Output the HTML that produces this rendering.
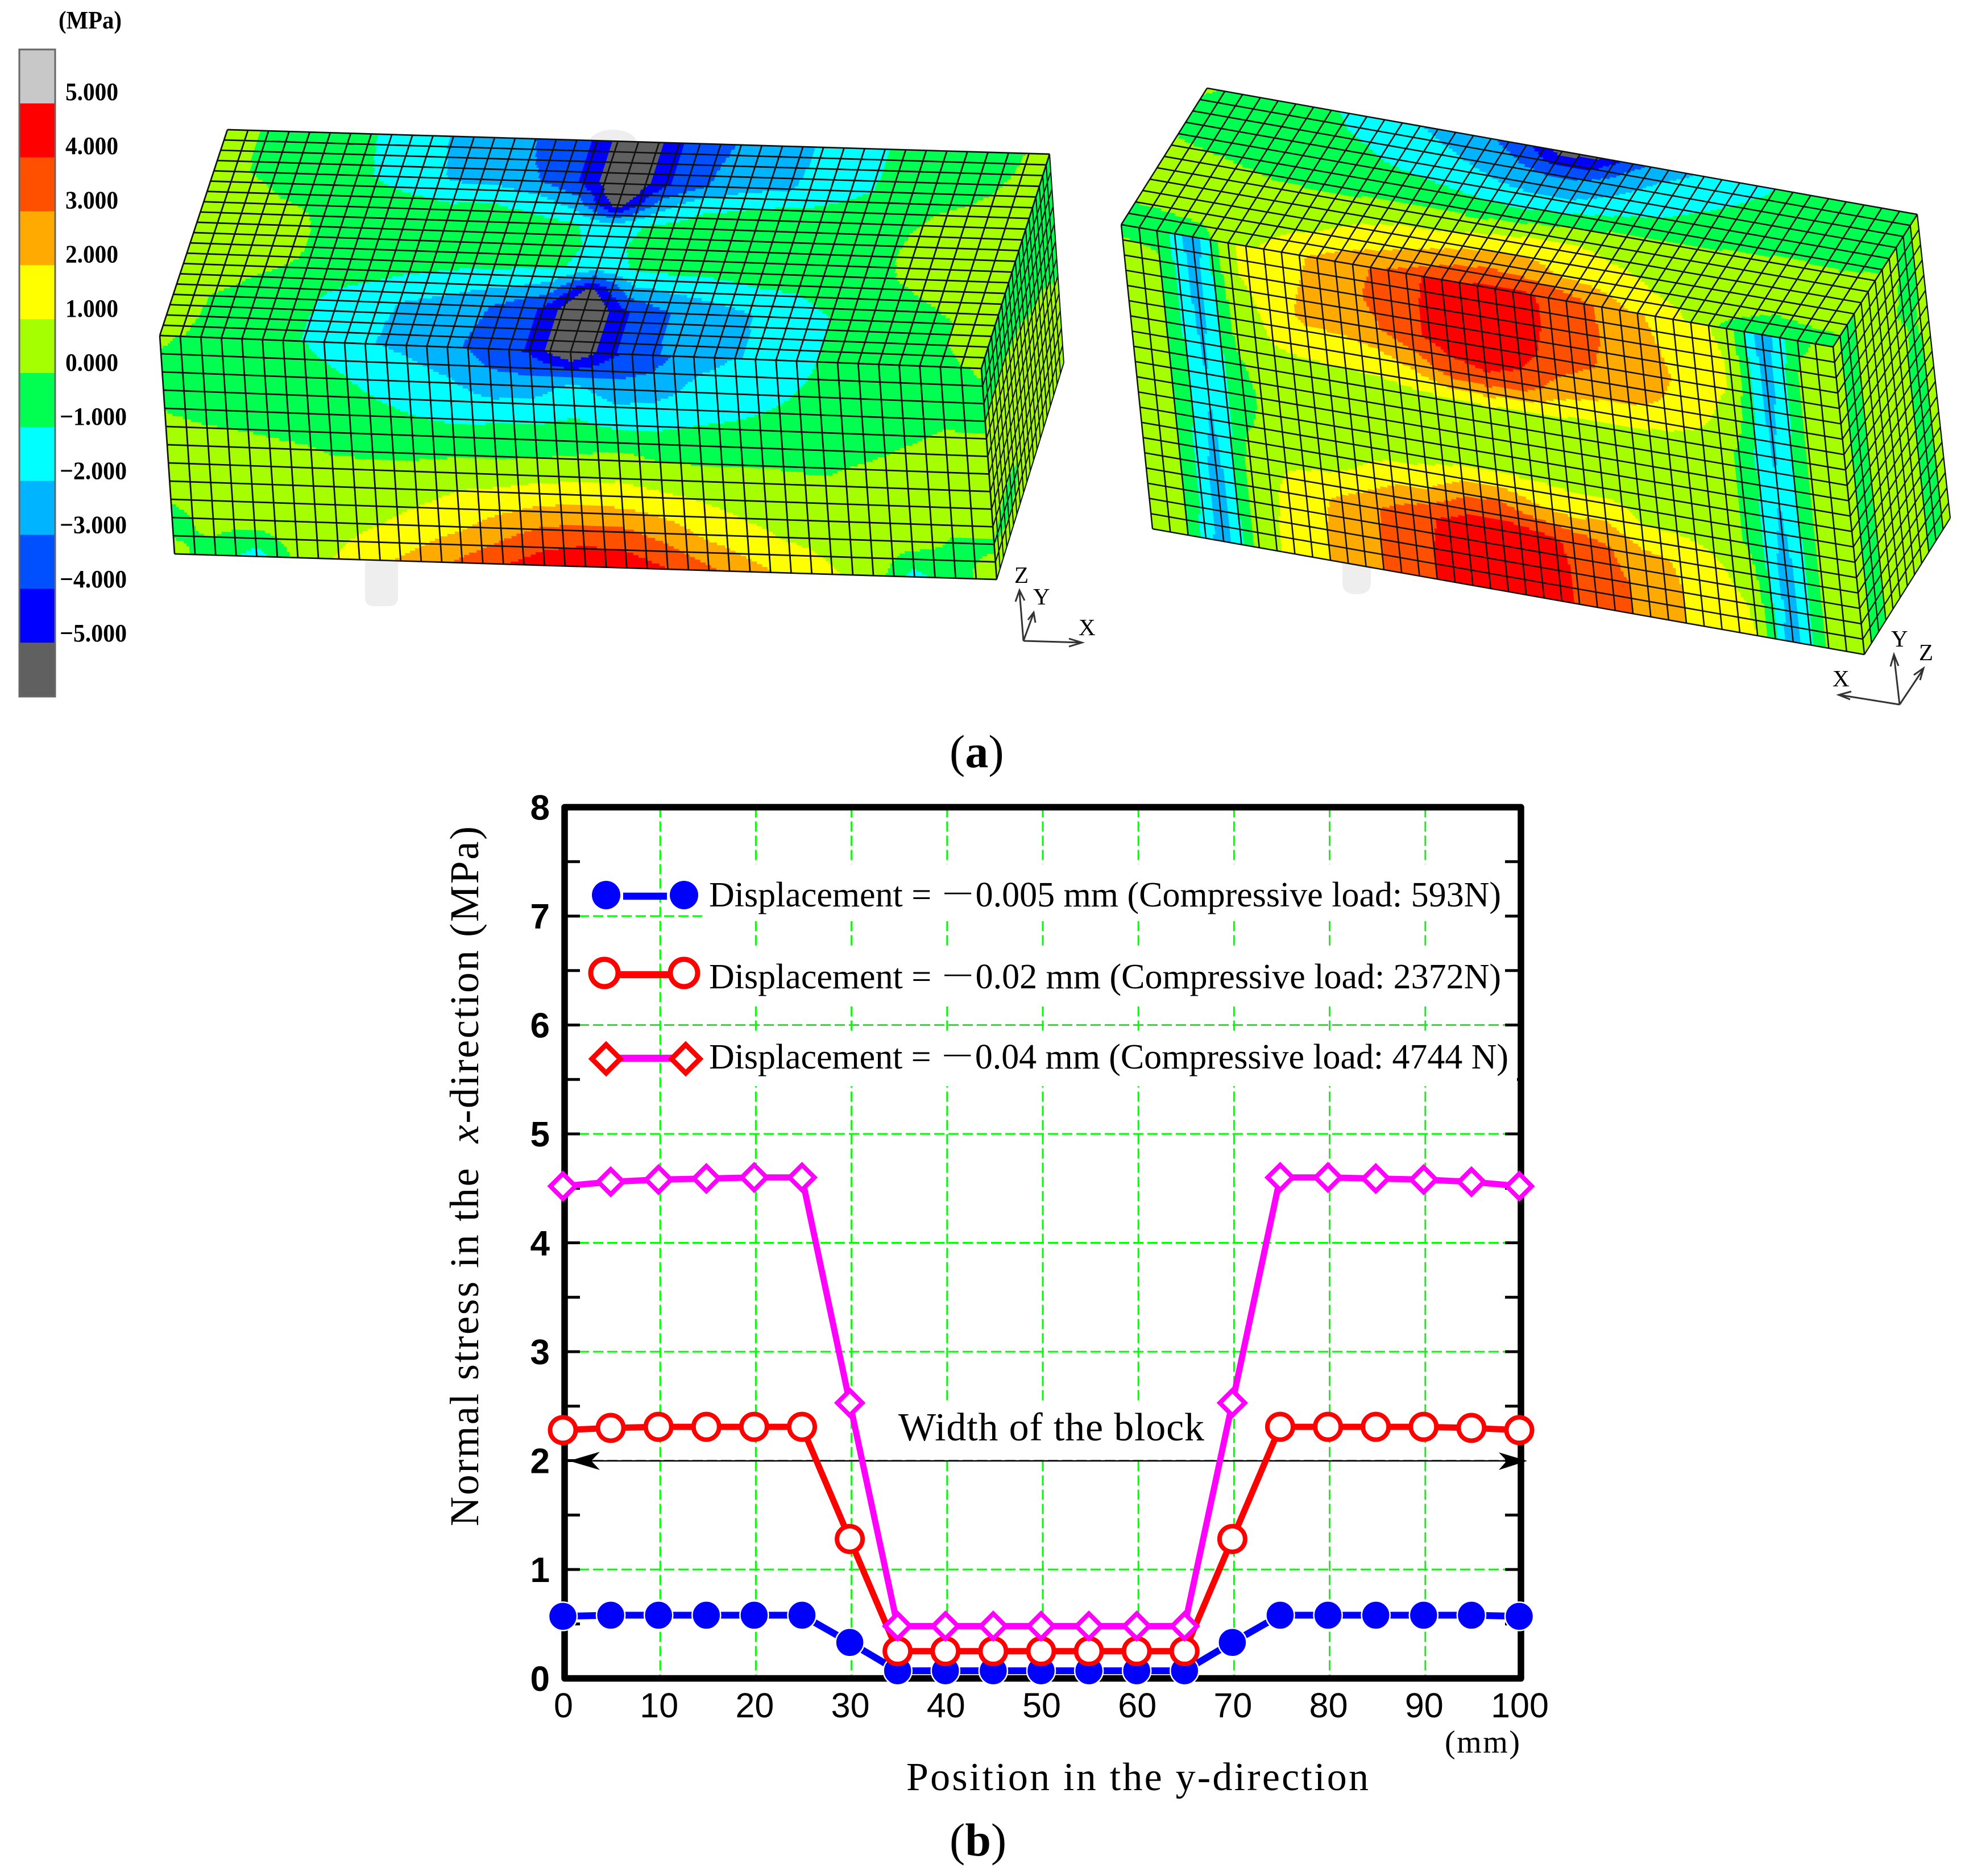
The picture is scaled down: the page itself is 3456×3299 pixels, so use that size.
<!DOCTYPE html>
<html lang="en">
<head>
<meta charset="utf-8">
<title>Normal stress contour plots and stress profile</title>
<style>
html,body{margin:0;padding:0;background:#fff;}
svg{display:block;}
text{font-family:"Liberation Serif","Noto Serif CJK SC",serif;fill:#000;}
.sans{font-family:"Liberation Sans",sans-serif;}
</style>
</head>
<body>
<svg id="fig" xmlns="http://www.w3.org/2000/svg" width="3456" height="3299" viewBox="0 0 3456 3299">
  <rect x="0" y="0" width="3456" height="3299" fill="#fff"/>

  <g id="colorbar"></g>
  <text x="103" y="50" font-size="44" font-weight="bold" textLength="111" lengthAdjust="spacingAndGlyphs">(MPa)</text>

  <path d="M642 960H700V1050Q700 1066 684 1066H658Q642 1066 642 1050Z" fill="#eeeeee"/>
  <ellipse cx="1078" cy="252" rx="42" ry="24" fill="#eeeeee"/>
  <path d="M2361 960H2411V1025Q2411 1045 2386 1045Q2361 1045 2361 1025Z" fill="#eeeeee"/>

  <g id="leftBlock"></g>
  <g id="rightBlock"></g>

  <g stroke="#333" stroke-width="3" fill="none">
    <path d="M1800 1127L1793 1040M1786 1058L1793 1038L1802 1056"/>
    <path d="M1800 1127L1818 1078M1808 1090L1818 1077L1821 1095"/>
    <path d="M1800 1127L1902 1130M1880 1123L1903 1130L1880 1137"/>
  </g>
  <text x="1784" y="1025" font-size="41">Z</text>
  <text x="1817" y="1063" font-size="41">Y</text>
  <text x="1897" y="1117" font-size="41">X</text>

  <g stroke="#333" stroke-width="3" fill="none">
    <path d="M3341 1239L3331 1152M3325 1172L3331 1151L3339 1171"/>
    <path d="M3341 1239L3383 1176M3366 1187L3383 1175L3377 1196"/>
    <path d="M3341 1239L3235 1222M3256 1216L3234 1222L3254 1230"/>
  </g>
  <text x="3326" y="1137" font-size="41">Y</text>
  <text x="3375" y="1161" font-size="41">Z</text>
  <text x="3223" y="1207" font-size="41">X</text>

  <text x="1670" y="1349" font-size="82">(<tspan font-weight="bold">a</tspan>)</text>

  <g id="chart"></g>

  <text transform="translate(841,2684) rotate(-90)" x="0" y="0" font-size="72" textLength="1231" lengthAdjust="spacing" xml:space="preserve">Normal stress in the  <tspan font-style="italic">x</tspan>-direction (MPa)</text>
  <text x="1594" y="3148" font-size="70" textLength="813" lengthAdjust="spacing">Position in the y-direction</text>
  <text x="2541" y="3082" font-size="56" textLength="132" lengthAdjust="spacing">(mm)</text>
  <text x="1670" y="3263" font-size="82">(<tspan font-weight="bold">b</tspan>)</text>
</svg>

<script>
/* ---------- line chart data ---------- */
const positions = [0,5,10,15,20,25,30,35,40,45,50,55,60,65,70,75,80,85,90,95,100];
const stressLow = [0.57,0.58,0.58,0.58,0.58,0.58,0.33,0.07,0.07,0.07,0.07,0.07,0.07,0.07,0.33,0.58,0.58,0.58,0.58,0.58,0.57];
const stressMid = [2.28,2.30,2.31,2.31,2.31,2.31,1.28,0.25,0.25,0.25,0.25,0.25,0.25,0.25,1.28,2.31,2.31,2.31,2.31,2.30,2.28];
const stressHigh = [4.52,4.56,4.58,4.59,4.60,4.60,2.53,0.48,0.48,0.48,0.48,0.48,0.48,0.48,2.53,4.60,4.60,4.59,4.58,4.56,4.52];
const yTickLabels = [0,1,2,3,4,5,6,7,8];
const yMinorTicks = [0.5,1,1.5,2,2.5,3,3.5,4,4.5,5,5.5,6,6.5,7,7.5];
const xTickLabels = [0,10,20,30,40,50,60,70,80,90,100];

/* ---------- colour scale data ---------- */
const contourLevels = [-5,-4,-3,-2,-1,0,1,2,3,4,5];
const contourColors = ["#606060","#0000ff","#0050ff","#00b4ff","#00ffff","#00ff50","#a5ff00","#ffff00","#ffaa00","#ff5000","#ff0000","#c8c8c8"];
const colorbarLabels = ["5.000","4.000","3.000","2.000","1.000","0.000","\u22121.000","\u22122.000","\u22123.000","\u22124.000","\u22125.000"];

/* ---------- stress fields, one array per mesh column (every second column), values down the face ---------- */
const leftTopField = [
[.4,.4,.4,.4,.4,.4,.4,.4,.4,.4,.3],
[-.1,-.1,-.05,.3,.5,.5,.5,.4,-.05,-.1,-.2],
[-.5,-.5,-.4,-.15,.3,.5,.5,-.1,-.5,-.5,-.5],
[-.7,-.7,-.6,-.4,-.15,-.1,-.15,-.5,-.7,-.7,-.7],
[-1.15,-1.1,-1.05,-.6,-.5,-.5,-.6,-.8,-1.3,-1.35,-1.4],
[-1.7,-1.7,-1.6,-.9,-.6,-.55,-.65,-1.05,-1.8,-1.85,-1.9],
[-2.4,-2.3,-2.2,-1.1,-.6,-.6,-.7,-1.3,-2.2,-2.3,-2.3],
[-2.7,-2.6,-2.4,-1.05,-.6,-.6,-.75,-1.7,-2.5,-2.7,-2.8],
[-3.3,-3.2,-3.05,-1.4,-.6,-.6,-.8,-1.9,-3.2,-3.3,-3.4],
[-4.1,-4.1,-4.1,-2.5,-.8,-.65,-.85,-2.4,-4.1,-4.1,-4.1],
[-6.5,-6.5,-6.5,-5.6,-1.7,-1.4,-1.5,-5.2,-6.5,-6.5,-6.5],
[-4.1,-4.1,-4.1,-2.5,-.8,-.65,-.85,-2.3,-4.1,-4.1,-4.1],
[-3.2,-3.1,-3.05,-1.2,-.6,-.6,-.75,-1.9,-3.05,-3.05,-3.1],
[-2.7,-2.6,-2.3,-1.05,-.6,-.55,-.7,-1.6,-2.6,-2.6,-2.6],
[-2.2,-2.2,-2.1,-.9,-.55,-.5,-.6,-1.2,-2.1,-2.1,-2.1],
[-1.5,-1.5,-1.4,-.85,-.5,-.45,-.5,-1.05,-1.4,-1.5,-1.5],
[-1.05,-1.05,-1.02,-.6,-.4,-.3,-.4,-.7,-1,-1,-1],
[-.7,-.7,-.6,-.3,-.1,-.05,-.1,-.4,-.7,-.7,-.7],
[-.6,-.6,-.4,.1,.3,.4,.3,-.05,-.4,-.5,-.5],
[-.3,-.2,.05,.3,.4,.5,.5,.3,0,0,-.3],
[.4,.5,.5,.5,.5,.5,.5,.5,.4,.4,.3]
];
const leftFrontField = [
[.3,-.5,-.05,.5,.5,-.3,.2],
[-.4,-.6,-.3,.4,.6,.3,-.3],
[-.5,-.6,-.4,.3,.6,.5,-1.5],
[-.6,-.7,-.6,.15,.5,.6,.3],
[-1.3,-.75,-.5,-.05,.3,.6,1.1],
[-1.9,-1.2,-.7,-.1,.4,.95,1.8],
[-2.2,-1.6,-.95,-.15,.6,1.4,2.4],
[-2.6,-1.9,-1.15,-.1,1,1.8,3.2],
[-3.5,-2.6,-1.1,-.1,1.15,2.5,3.9],
[-4.2,-2.5,-1.1,0,1.4,3.1,4.6],
[-6.2,-1.7,-.85,.1,1.5,3.3,4.9],
[-4.2,-2.6,-1.2,.4,1.4,3.2,4.7],
[-3.5,-2.4,-1.15,0,1.2,2.6,4],
[-2.4,-1.7,-.95,-.05,.9,1.8,3.2],
[-2,-1.4,-.85,-.05,.6,1.3,2.4],
[-1.5,-1.1,-.75,-.05,.4,.9,1.7],
[-1,-.8,-.6,-.1,.3,.7,1.1],
[-.7,-.6,-.45,.1,.4,.5,.7],
[-.5,-.5,-.15,.3,.5,.5,-1.4],
[-.5,-.4,.1,.4,.5,-.1,-.2],
[.2,-.4,.05,.5,.5,-.1,.3]
];
const leftSideField = [
[-.5,-.3,.3,.4,.4,0,.3],
[-.5,-.3,.3,.4,.4,-.3,.3],
[-.5,-.5,.1,.4,.4,.3,.4],
[-.5,-.5,-.4,.3,.4,.4,.4],
[-.4,-.5,-.4,-.3,.3,.4,.4]
];
const rightTopField = [
[.2,-.4,-.05,.4,.3,0,-.3],
[-.4,-.5,-.3,.3,.3,.1,-.5],
[-.5,-.6,-.4,.1,.4,.4,-.6],
[-.6,-.7,-.6,-.05,.3,.6,.6],
[-1.1,-.85,-.7,-.1,.3,.8,1.1],
[-1.5,-1.05,-.75,-.2,.4,1,1.9],
[-1.95,-1.4,-.9,-.2,.7,1.5,2.4],
[-2.4,-1.75,-1.05,-.2,.9,1.7,2.9],
[-2.9,-2.2,-1.35,-.25,.9,2.1,3.3],
[-3.6,-2.7,-1.7,-.4,1.1,2.5,3.9],
[-5.5,-3.1,-1.9,-.3,1.35,2.7,4.1],
[-5.2,-3.05,-1.9,-.1,1.5,2.4,4.2],
[-3.4,-2.4,-1.5,.05,1.35,1.9,3.9],
[-2.4,-1.7,-1.1,.1,.9,1.6,3.1],
[-1.9,-1.3,-.9,.1,.7,1.2,2.2],
[-1.4,-1.05,-.7,.1,.5,.8,1.5],
[-1.02,-.8,-.5,.1,.4,.6,.9],
[-.7,-.6,-.3,.1,.4,.4,-.3],
[-.6,-.5,-.3,.1,.3,.1,-.8],
[-.5,-.5,-.3,.05,.3,.2,-.4],
[-.4,-.4,-.2,.1,.3,.2,-.2]
];
const rightFrontField = [
[-.3,.4,.4,.4,.4,.4,.4,.4,.4,.4,.4],
[-.2,.05,.05,.05,.05,.05,.05,.05,.05,.05,.05],
[-2.7,-2.6,-2.5,-2.3,-2.1,-2,-2.1,-2.4,-2.6,-2.6,-2.7],
[.9,.9,.5,.3,-.1,-.2,-.1,.3,.4,.4,.4],
[1.3,1.4,1.3,1.05,.6,.3,.4,.9,1.2,1.3,1.3],
[1.9,2.05,2.3,1.4,.5,.4,.5,.9,1.9,2,2],
[2.4,2.6,2.4,1.4,.6,.5,.6,1.1,2.6,2.7,2.7],
[3,3.2,2.9,1.6,.6,.5,.6,1.8,3.3,3.3,3.3],
[3.7,3.8,3.85,2.3,.7,.5,.65,1.9,3.9,4,4],
[4.4,4.5,4.4,3.6,.8,.5,.8,2.8,4.5,4.6,4.6],
[4.5,4.6,4.5,3.9,.9,.5,.8,3,4.6,4.7,4.7],
[4.4,4.5,4.4,3.7,.8,.5,.8,2.1,4.4,4.6,4.6],
[3.8,3.8,3.6,2.6,.8,.5,.7,1.7,3.8,3.9,3.9],
[3.2,3.2,3.1,2.2,.7,.5,.6,1.9,3.1,3.3,3.3],
[2.4,2.7,2.5,2.1,.8,.5,.6,1,2.2,2.7,2.7],
[1.8,2,2.2,1.9,.7,.5,.55,.9,1.9,2,2],
[1.3,1.5,1.5,1.3,.6,.5,.5,.7,1.2,1.4,1.5],
[.7,.9,.9,.5,-.1,-.1,-.1,-.1,.5,.9,1],
[-2.7,-2.6,-2.5,-2.3,-2.1,-2,-2.1,-2.4,-2.6,-2.6,-2.7],
[-.2,.1,.1,.1,.1,.1,.1,.1,.1,.1,.1],
[.3,.4,.4,.4,.4,.4,.4,.4,.4,.4,.4]
];
const rightSideField = [
[.3,.4,.4,.4,.4,.4,.4,.4,.4,.4,.4],
[-.4,-.4,-.4,-.4,-.4,-.4,-.4,-.4,-.4,-.4,-.4],
[.4,.4,.4,.4,.4,.4,.4,.4,.4,.4,.4],
[.4,.4,.4,.4,.4,.4,.4,.4,.4,.4,.4],
[.4,.4,.1,.4,.4,.4,.4,.4,.4,.4,.4],
[-.5,-.5,-.5,-.1,-.5,-.5,-.5,-.5,-.5,-.5,-.5],
[.4,.4,.4,.4,.4,.4,.4,.4,.4,.4,.4]
];

const SVGNS = "http://www.w3.org/2000/svg";
function el(tag, attrs, parent) {
  const n = document.createElementNS(SVGNS, tag);
  for (const k in attrs) n.setAttribute(k, attrs[k]);
  if (parent) parent.appendChild(n);
  return n;
}

/* ---------- colour scale ---------- */
function bandIndex(v) {
  let i = 0;
  while (i < contourLevels.length && v >= contourLevels[i]) i++;
  return i;
}
function fieldAt(field, u, v) {
  const nc = field.length - 1, nr = field[0].length - 1;
  const fu = Math.min(u * nc, nc - 1e-6), fv = Math.min(v * nr, nr - 1e-6);
  const c = Math.floor(fu), r = Math.floor(fv), a = fu - c, b = fv - r;
  return (1 - a) * ((1 - b) * field[c][r] + b * field[c][r + 1]) +
         a * ((1 - b) * field[c + 1][r] + b * field[c + 1][r + 1]);
}
function mapQuad(q, u, v) {
  const tx = q[0][0] + (q[1][0] - q[0][0]) * u, ty = q[0][1] + (q[1][1] - q[0][1]) * u;
  const bx = q[3][0] + (q[2][0] - q[3][0]) * u, by = q[3][1] + (q[2][1] - q[3][1]) * u;
  return [tx + (bx - tx) * v, ty + (by - ty) * v];
}
function drawFace(parent, name, quad, cols, rows, field, subU, subV, lineWidth) {
  const g = el("g", {}, parent);
  
  
  const nu = cols * subU, nv = rows * subV;
  for (let j = 0; j < nv; j++) {
    const v0 = j / nv, v1 = (j + 1) / nv, vm = (j + 0.5) / nv;
    let start = 0, cur = bandIndex(fieldAt(field, 0.5 / nu, vm));
    for (let i = 1; i <= nu; i++) {
      const b = i < nu ? bandIndex(fieldAt(field, (i + 0.5) / nu, vm)) : -1;
      if (b !== cur) {
        const u0 = start / nu, u1 = i / nu;
        const pts = [mapQuad(quad, u0, v0), mapQuad(quad, u1, v0), mapQuad(quad, u1, v1), mapQuad(quad, u0, v1)]
          .map(p => p[0].toFixed(1) + "," + p[1].toFixed(1)).join(" ");
        const poly = el("polygon", { points: pts, fill: contourColors[cur], stroke: contourColors[cur], "stroke-width": 1 }, g);
        
        
        start = i; cur = b;
      }
    }
  }
  let d = "";
  for (let i = 0; i <= cols; i++) {
    const a = mapQuad(quad, i / cols, 0), b = mapQuad(quad, i / cols, 1);
    d += "M" + a[0].toFixed(1) + " " + a[1].toFixed(1) + "L" + b[0].toFixed(1) + " " + b[1].toFixed(1);
  }
  for (let j = 0; j <= rows; j++) {
    const a = mapQuad(quad, 0, j / rows), b = mapQuad(quad, 1, j / rows);
    d += "M" + a[0].toFixed(1) + " " + a[1].toFixed(1) + "L" + b[0].toFixed(1) + " " + b[1].toFixed(1);
  }
  const mesh = el("path", { d: d, fill: "none", stroke: "#111", "stroke-width": lineWidth }, g);
  
  
}

/* colour bar */
(function () {
  const cb = document.getElementById("colorbar");
  const top = 87, h = 94.83;
  for (let i = 0; i < contourColors.length; i++) {
    const r = el("rect", { x: 34, y: top + i * h, width: 63, height: h + 0.5, fill: contourColors[contourColors.length - 1 - i] }, cb);
    
    
  }
  const frame = el("rect", { x: 34, y: top, width: 63, height: h * contourColors.length, fill: "none", stroke: "#666", "stroke-width": 3 }, cb);
  
  
  colorbarLabels.forEach(function (label, i) {
    const isNeg = label.charAt(0) === "\u2212";
    const t = el("text", { x: isNeg ? 105 : 115, y: 176 + i * 95.2, "font-size": 44, "font-weight": "bold", textLength: isNeg ? 118 : 93, lengthAdjust: "spacingAndGlyphs" }, cb);
    
    
    t.textContent = label;
  });
})();

/* left block */
(function () {
  const p = document.getElementById("leftBlock");
  const A = [400, 228], B = [1846, 271], C = [281, 590], D = [1726, 648], E = [307, 974], F = [1753, 1019], G = [1871, 638];
  drawFace(p, "left-side-face", [D, B, G, F], 20, 12, leftSideField, 2, 8, 2);
  drawFace(p, "left-top-face", [A, B, D, C], 40, 20, leftTopField, 8, 4, 2.7);
  drawFace(p, "left-front-face", [C, D, F, E], 40, 12, leftFrontField, 8, 7, 2.7);
})();

/* right block */
(function () {
  const p = document.getElementById("rightBlock");
  const A = [2123, 155], B = [3372, 377], C = [1972, 395], D = [3224, 610], E = [2027, 930], F = [3279, 1151], G = [3430, 911];
  drawFace(p, "right-side-face", [D, B, G, F], 12, 20, rightSideField, 3, 6, 2.2);
  drawFace(p, "right-top-face", [A, B, D, C], 40, 12, rightTopField, 7, 5, 2.5);
  drawFace(p, "right-front-face", [C, D, F, E], 40, 20, rightFrontField, 7, 6, 2.5);
})();

/* ---------- line chart ---------- */
function xScale(v) { return 993 + v * 16.82; }
function yScale(v) { return 2951.5 - v * 191.5; }
function markerX(v) { return xScale(v) - 3; }

(function () {
  const c = document.getElementById("chart");
  const gridColor = "#00ff00";
  const left = xScale(0), right = xScale(100), bottom = yScale(0), top = yScale(8);

  /* gridlines */
  xTickLabels.slice(1, -1).forEach(function (v) {
    const l = el("line", { x1: xScale(v), x2: xScale(v), y1: top, y2: bottom, stroke: gridColor, "stroke-width": 3, "stroke-dasharray": "18 7" }, c);
    
    
  });
  yTickLabels.slice(1, -1).forEach(function (v) {
    const l = el("line", { x1: left, x2: right, y1: yScale(v), y2: yScale(v), stroke: gridColor, "stroke-width": 3, "stroke-dasharray": "18 7" }, c);
    
    
  });

  /* minor ticks on both y sides */
  yMinorTicks.forEach(function (v) {
    const a = el("line", { x1: left, x2: left + 27, y1: yScale(v), y2: yScale(v), stroke: "#000", "stroke-width": 5 }, c);
    
    
    const b = el("line", { x1: right - 28, x2: right, y1: yScale(v), y2: yScale(v), stroke: "#000", "stroke-width": 5 }, c);
    
    
  });

  /* white plates behind annotations */
  [[1235, 1520, 1412, 100], [1235, 1664, 1412, 106], [1235, 1817, 1433, 93], [1580, 2463, 560, 103]].forEach(function (r) {
    const w = el("rect", { x: r[0], y: r[1], width: r[2], height: r[3], fill: "#fff" }, c);
    
    
  });

  /* plot frame */
  const frame = el("rect", { x: left, y: top, width: right - left, height: bottom - top, fill: "none", stroke: "#000", "stroke-width": 11.5, "stroke-linejoin": "round" }, c);
  
  

  /* tick labels */
  yTickLabels.forEach(function (v) {
    const t = el("text", { x: 967, y: yScale(v) + 22, "font-size": 62, "font-weight": "bold", "text-anchor": "end", class: "sans" }, c);
    
    
    t.textContent = v;
  });
  xTickLabels.forEach(function (v) {
    const t = el("text", { x: xScale(v) - 2, y: 3020, "font-size": 61, "text-anchor": "middle", class: "sans" }, c);
    
    
    t.textContent = v;
  });

  /* width annotation */
  const wl = el("line", { x1: 1005, x2: 2680, y1: 2569, y2: 2569, stroke: "#000", "stroke-width": 2.5 }, c);
  
  
  const hl = el("path", { d: "M1001 2569L1055 2553L1040 2569L1055 2585Z", fill: "#000" }, c);
  
  
  const hr = el("path", { d: "M2686 2569L2636 2554L2650 2569L2636 2585Z", fill: "#000" }, c);
  
  
  const wt = el("text", { x: 1580, y: 2533, "font-size": 70, textLength: 538, lengthAdjust: "spacing" }, c);
  
  
  wt.textContent = "Width of the block";

  /* series */
  function polyPoints(values) {
    return positions.map(function (p, i) { return markerX(p).toFixed(1) + "," + yScale(values[i]).toFixed(1); }).join(" ");
  }
  const lowLine = el("polyline", { points: polyPoints(stressLow), fill: "none", stroke: "#0000ff", "stroke-width": 12 }, c);
  
  
  positions.forEach(function (p, i) {
    const m = el("circle", { cx: markerX(p), cy: yScale(stressLow[i]), r: 25, fill: "#0000ff", stroke: "#fff", "stroke-width": 2.5 }, c);
    
    
  });
  const midLine = el("polyline", { points: polyPoints(stressMid), fill: "none", stroke: "#ff0000", "stroke-width": 11 }, c);
  
  
  positions.forEach(function (p, i) {
    const m = el("circle", { cx: markerX(p), cy: yScale(stressMid[i]), r: 22.5, fill: "#fff", stroke: "#ff0000", "stroke-width": 8 }, c);
    
    
  });
  const highLine = el("polyline", { points: polyPoints(stressHigh), fill: "none", stroke: "#ff00ff", "stroke-width": 11 }, c);
  
  
  positions.forEach(function (p, i) {
    const x = markerX(p), y = yScale(stressHigh[i]), s = 22;
    const m = el("polygon", { points: (x - s) + "," + y + " " + x + "," + (y - s) + " " + (x + s) + "," + y + " " + x + "," + (y + s), fill: "#fff", stroke: "#ff00ff", "stroke-width": 8 }, c);
    
    
  });

  /* legend */
  function legendText(baseline, length, body) {
    const t = el("text", { x: 1247, y: baseline, "font-size": 62, textLength: length, lengthAdjust: "spacing" }, c);
    
    
    t.textContent = body;
  }
  const l1 = el("line", { x1: 1096, x2: 1173, y1: 1576, y2: 1576, stroke: "#0000ff", "stroke-width": 12.5 }, c);
  
  
  [1066, 1203].forEach(function (x) {
    const m = el("circle", { cx: x, cy: 1574, r: 25, fill: "#0000ff" }, c);
    
    
  });
  legendText(1594, 1393, "Displacement = \uFF0D0.005 mm (Compressive load: 593N)");

  const l2 = el("line", { x1: 1085, x2: 1185, y1: 1714, y2: 1714, stroke: "#ff0000", "stroke-width": 12.5 }, c);
  
  
  [1063, 1203].forEach(function (x) {
    const m = el("circle", { cx: x, cy: 1711, r: 24, fill: "#fff", stroke: "#ff0000", "stroke-width": 9 }, c);
    
    
  });
  legendText(1738, 1393, "Displacement = \uFF0D0.02 mm (Compressive load: 2372N)");

  const l3 = el("line", { x1: 1085, x2: 1185, y1: 1861, y2: 1861, stroke: "#ff00ff", "stroke-width": 12.5 }, c);
  
  
  [1066, 1206].forEach(function (x) {
    const y = 1862, s = 25;
    const m = el("polygon", { points: (x - s) + "," + y + " " + x + "," + (y - s) + " " + (x + s) + "," + y + " " + x + "," + (y + s), fill: "#fff", stroke: "#ff0000", "stroke-width": 9 }, c);
    
    
  });
  legendText(1879, 1406, "Displacement = \uFF0D0.04 mm (Compressive load: 4744 N)");
})();
</script>
</body>
</html>
